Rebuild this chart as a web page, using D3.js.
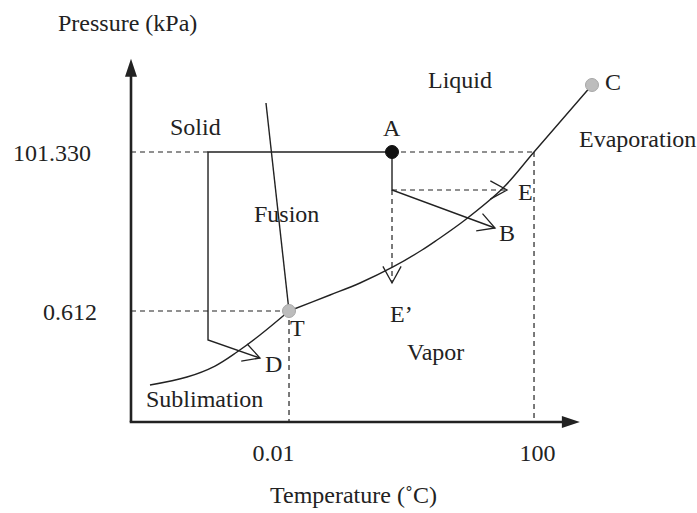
<!DOCTYPE html>
<html>
<head>
<meta charset="utf-8">
<script src="https://cdn.jsdelivr.net/npm/d3@7/dist/d3.min.js"></script>
<style>
  html, body { margin: 0; padding: 0; background: #fff; }
  svg text { font-family: "Liberation Serif", "Times New Roman", serif; fill: #222; }
</style>
</head>
<body>
<svg id="chart" width="697" height="513"></svg>
<script>
// Phase diagram of water (schematic units, 0–100 on each axis)

// Axis tick labels and their schematic positions
const xTickValues = [35.27, 89.96];
const xTickLabels = ["0.01", "100"];
const yTickValues = [73.97, 30.41];
const yTickLabels = ["101.330", "0.612"];

// Phase boundaries
const vaporU = [35.27, 44.42, 51.12, 58.48, 64.96, 68.30, 74.55, 83.04, 89.96, 102.90];
const vaporV = [30.41, 34.79, 38.08, 42.47, 47.12, 49.86, 55.34, 64.11, 73.97, 92.33];
const sublimU = [4.24, 12.5, 18.75, 23.66, 28.79, 35.27];
const sublimV = [10.14, 12.33, 15.34, 19.18, 23.84, 30.41];
const fusionU = [30.13, 35.27];
const fusionV = [87.40, 30.41];

// Named states: A (start), T (triple point), C (critical point)
const pointNames = ["A", "T", "C"];
const pointU = [58.26, 35.27, 102.90];
const pointV = [73.97, 30.41, 92.33];

// Process paths starting from A
const pathD_U = [17.19, 58.26, 17.19, 17.19, 28.79]; // isobar to solid side, then down to D
const pathD_V = [73.97, 73.97, 73.97, 22.47, 17.53];
const bendU = 58.26, bendV = 63.56;            // common turning point below A
const pathB_end = [81.25, 53.15];
const pathE_end = [83.93, 63.56];
const pathEp_end = [58.26, 38.08];

const axisEndU = 100.2, axisEndV = 99.5;

const svg = d3.select("#chart");
const x = d3.scaleLinear().domain([0, 100]).range([131, 579]);
const y = d3.scaleLinear().domain([0, 100]).range([422, 57]);
const ink = "#222";
const fontSize = 24;

const line = d3.line().x(d => x(d[0])).y(d => y(d[1]));
const smooth = d3.line().x(d => x(d[0])).y(d => y(d[1])).curve(d3.curveCatmullRom.alpha(0.5));
const zip = (a, b) => a.map((v, i) => [v, b[i]]);

// Tick labels through axes (no tick marks, no domain line)
const yAxis = d3.axisLeft(y).tickValues(yTickValues)
  .tickFormat((d, i) => yTickLabels[i]).tickSize(0).tickPadding(37);
const gy = svg.append("g").attr("transform", `translate(${x(0)},0)`).call(yAxis);
gy.select(".domain").remove();
gy.selectAll("text").attr("font-size", fontSize).attr("dy", "0.35em")
  .attr("font-family", "Liberation Serif").attr("fill", ink)
  .attr("dx", (d, i) => i === 0 ? -3 : 3);

const xAxis = d3.axisBottom(x).tickValues(xTickValues)
  .tickFormat((d, i) => xTickLabels[i]).tickSize(0).tickPadding(22);
const gx = svg.append("g").attr("transform", `translate(0,${y(0)})`).call(xAxis);
gx.select(".domain").remove();
gx.selectAll("text").attr("font-size", fontSize)
  .attr("font-family", "Liberation Serif").attr("fill", ink)
  .attr("dx", (d, i) => i === 0 ? -16 : 3);

// Dashed guide lines
const dashed = [
  [[0, yTickValues[0]], [pathD_U[0], yTickValues[0]]],
  [[pointU[0], yTickValues[0]], [xTickValues[1], yTickValues[0]]],
  [[0, yTickValues[1]], [xTickValues[0], yTickValues[1]]],
  [[xTickValues[0], yTickValues[1]], [xTickValues[0], 0]],
  [[xTickValues[1], yTickValues[0]], [xTickValues[1], 0]],
  [[bendU, bendV], pathE_end],
  [[bendU, bendV], pathEp_end]
];
svg.append("g").selectAll("path").data(dashed).join("path")
  .attr("d", line).attr("fill", "none").attr("stroke", ink)
  .attr("stroke-width", 1.2).attr("stroke-dasharray", "5,4");

// Phase boundaries
svg.append("path").attr("d", smooth(zip(vaporU, vaporV)))
  .attr("fill", "none").attr("stroke", ink).attr("stroke-width", 1.4);
svg.append("path").attr("d", smooth(zip(sublimU, sublimV)))
  .attr("fill", "none").attr("stroke", ink).attr("stroke-width", 1.4);
svg.append("path").attr("d", line(zip(fusionU, fusionV)))
  .attr("fill", "none").attr("stroke", ink).attr("stroke-width", 1.4);

// Solid process paths
svg.append("path").attr("d", line(zip(pathD_U, pathD_V)))
  .attr("fill", "none").attr("stroke", ink).attr("stroke-width", 1.4);
svg.append("path").attr("d", line([[pointU[0], pointV[0]], [bendU, bendV], pathB_end]))
  .attr("fill", "none").attr("stroke", ink).attr("stroke-width", 1.4);

// Open V arrowheads drawn in pixel space
function arrowHead(from, to, len, ang) {
  const x0 = x(from[0]), y0 = y(from[1]), x1 = x(to[0]), y1 = y(to[1]);
  const a = Math.atan2(y1 - y0, x1 - x0) + Math.PI;
  const w1 = [x1 + len * Math.cos(a + ang), y1 + len * Math.sin(a + ang)];
  const w2 = [x1 + len * Math.cos(a - ang), y1 + len * Math.sin(a - ang)];
  return d3.line()([w1, [x1, y1], w2]);
}
const heads = [
  [[pathD_U[3], pathD_V[3]], [pathD_U[4], pathD_V[4]]],
  [[bendU, bendV], pathB_end],
  [[bendU, bendV], pathE_end],
  [[bendU, bendV], pathEp_end]
];
svg.append("g").selectAll("path").data(heads).join("path")
  .attr("d", d => arrowHead(d[0], d[1], 19, 0.5))
  .attr("fill", "none").attr("stroke", ink).attr("stroke-width", 1.3);

// Main axes with filled arrowheads
svg.append("line").attr("x1", x(0)).attr("y1", y(0)).attr("x2", x(0)).attr("y2", y(axisEndV) + 14)
  .attr("stroke", ink).attr("stroke-width", 2.6);
svg.append("line").attr("x1", x(0) - 1.3).attr("y1", y(0)).attr("x2", x(axisEndU) - 14).attr("y2", y(0))
  .attr("stroke", ink).attr("stroke-width", 2.6);
svg.append("path")
  .attr("d", `M${x(0)},${y(axisEndV)} L${x(0) - 6},${y(axisEndV) + 18} L${x(0) + 6},${y(axisEndV) + 18} Z`)
  .attr("fill", ink);
svg.append("path")
  .attr("d", `M${x(axisEndU)},${y(0)} L${x(axisEndU) - 18},${y(0) - 6} L${x(axisEndU) - 18},${y(0) + 6} Z`)
  .attr("fill", ink);

// State points
svg.append("g").selectAll("circle").data(pointNames).join("circle")
  .attr("cx", (d, i) => x(pointU[i])).attr("cy", (d, i) => y(pointV[i]))
  .attr("r", 6.5)
  .attr("fill", (d, i) => i === 0 ? "#111" : "#bdbdbd")
  .attr("stroke", (d, i) => i === 0 ? "#111" : "#a8a8a8").attr("stroke-width", 1);

// Text labels
const labels = [
  { t: "Pressure (kPa)", px: 58, py: 31 },
  { t: "Temperature (\u02DAC)", px: 270, py: 503 },
  { t: "Solid", px: 170, py: 135 },
  { t: "Liquid", px: 428, py: 88 },
  { t: "A", px: 383, py: 136 },
  { t: "C", px: 605, py: 90 },
  { t: "Evaporation", px: 579, py: 147 },
  { t: "E", px: 518, py: 200 },
  { t: "B", px: 499, py: 241 },
  { t: "Fusion", px: 254, py: 222 },
  { t: "E\u2019", px: 390, py: 322 },
  { t: "Vapor", px: 407, py: 360 },
  { t: "T", px: 290, py: 336 },
  { t: "D", px: 265, py: 372 },
  { t: "Sublimation", px: 146, py: 407 }
];
svg.append("g").selectAll("text").data(labels).join("text")
  .attr("x", d => d.px).attr("y", d => d.py)
  .attr("font-size", fontSize).text(d => d.t);
</script>
</body>
</html>
